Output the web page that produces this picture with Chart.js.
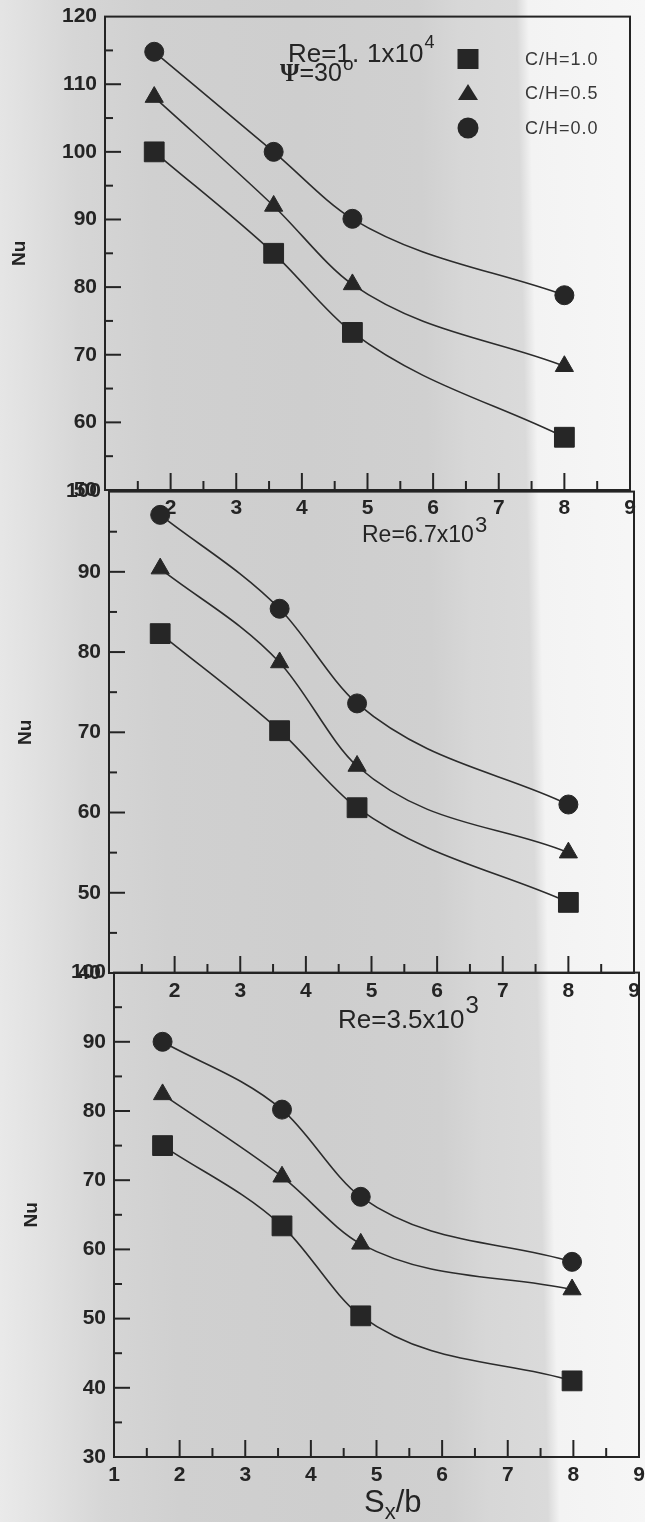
<!DOCTYPE html>
<html><head><meta charset="utf-8">
<script src="https://cdn.jsdelivr.net/npm/chart.js@4"></script>
<style>
html,body{margin:0;padding:0;width:645px;height:1522px;overflow:hidden;}
body{background:linear-gradient(88.8deg,#eaeaea 0px,#e2e2e2 45px,#d6d6d6 105px,#d0d0d0 180px,#cecece 330px,#d0d0d0 450px,#d7d7d7 490px,#dadada 548px,#f3f3f3 560px,#f7f7f7 677px);}
#wrap{position:relative;width:645px;height:1522px;}
canvas{position:absolute;}
</style></head><body><div id="wrap">
<canvas id="c1"></canvas><canvas id="c2"></canvas><canvas id="c3"></canvas>
</div>
<script>
// ---------- data ----------
const seriesLabels = ['C/H=1.0', 'C/H=0.5', 'C/H=0.0'];
const xTop = [1.75, 3.57, 4.77, 8.0];
const xMid = [1.78, 3.60, 4.78, 8.0];
const xBot = [1.74, 3.56, 4.76, 7.98];
// Re = 1.1x10^4
const nuTopCH10 = [100.0, 85.0, 73.3, 57.8];
const nuTopCH05 = [108.1, 92.0, 80.4, 68.3];
const nuTopCH00 = [114.8, 100.0, 90.1, 78.8];
// Re = 6.7x10^3
const nuMidCH10 = [82.3, 70.2, 60.6, 48.8];
const nuMidCH05 = [90.4, 78.7, 65.8, 55.0];
const nuMidCH00 = [97.1, 85.4, 73.6, 61.0];
// Re = 3.5x10^3
const nuBotCH10 = [75.0, 63.4, 50.4, 41.0];
const nuBotCH05 = [82.4, 70.5, 60.8, 54.2];
const nuBotCH00 = [90.0, 80.2, 67.6, 58.2];
// ticks
const xTickLabelsTop = ['', '2', '3', '4', '5', '6', '7', '8', '9'];
const xTickLabelsMid = ['', '2', '3', '4', '5', '6', '7', '8', '9'];
const xTickLabelsBot = ['1', '2', '3', '4', '5', '6', '7', '8', '9'];
const xMajorTicks = [2, 3, 4, 5, 6, 7, 8];
const xMinorTicks = [1.5, 2.5, 3.5, 4.5, 5.5, 6.5, 7.5, 8.5];
const yRangeTop = [50, 120];
const yRangeMid = [40, 100];
const yRangeBot = [30, 100];
const yMinorTop = [55, 65, 75, 85, 95, 105, 115];
const yMinorMid = [45, 55, 65, 75, 85, 95];
const yMinorBot = [35, 45, 55, 65, 75, 85, 95];

// ---------- styling ----------
const INK = '#242424';
const LINE = '#2c2c2c';
const SANS = "'Liberation Sans', Arial, sans-serif";
const PADTOP = 20;
const pointStyles = ['rect', 'triangle', 'circle'];
const pointRadii = [14, 10.5, 9.5];

const panelPlugin = {
  id: 'panel',
  afterDraw(chart, args, o) {
    const {ctx, chartArea: a, scales: {x, y}} = chart;
    const ox = o.dx, oy = o.oy;
    ctx.save();
    ctx.strokeStyle = INK; ctx.lineWidth = 2; ctx.lineCap = 'butt';
    ctx.strokeRect(a.left, a.top, a.right - a.left, a.bottom - a.top);
    const seg = (x1, y1, x2, y2) => { ctx.beginPath(); ctx.moveTo(x1, y1); ctx.lineTo(x2, y2); ctx.stroke(); };
    xMajorTicks.forEach(v => { const px = x.getPixelForValue(v); seg(px, a.bottom, px, a.bottom - 17); });
    xMinorTicks.forEach(v => { const px = x.getPixelForValue(v); seg(px, a.bottom, px, a.bottom - 9); });
    for (let v = y.min + 10; v < y.max; v += 10) { const py = y.getPixelForValue(v); seg(a.left, py, a.left + 16, py); }
    o.yMinor.forEach(v => { const py = y.getPixelForValue(v); seg(a.left, py, a.left + 8, py); });
    // annotation texts (page coords -> canvas coords); items with "gap" follow the previous one
    ctx.fillStyle = INK; ctx.textBaseline = 'alphabetic'; ctx.textAlign = 'left';
    let cx = 0;
    (o.texts || []).forEach(t => {
      ctx.font = t.font;
      const tx = (t.gap !== undefined) ? cx + t.gap : t.x - ox;
      ctx.fillText(t.s, tx, t.y - oy);
      cx = tx + ctx.measureText(t.s).width;
    });
    // legend
    if (o.legend) {
      const L = o.legend;
      ctx.fillStyle = '#262626';
      ctx.fillRect(L.mx - 10.5 - ox, L.ys[0] - 10 - oy, 21, 20);
      ctx.beginPath();
      ctx.moveTo(L.mx - ox, L.ys[1] - 9 - oy);
      ctx.lineTo(L.mx + 10 - ox, L.ys[1] + 7 - oy);
      ctx.lineTo(L.mx - 10 - ox, L.ys[1] + 7 - oy);
      ctx.closePath(); ctx.fill();
      ctx.beginPath(); ctx.arc(L.mx - ox, L.ys[2] - oy, 10.5, 0, Math.PI * 2); ctx.fill();
      ctx.fillStyle = '#383838';
      ctx.font = '18px ' + SANS; ctx.textBaseline = 'middle';
      try { ctx.letterSpacing = '1px'; } catch (e) {}
      chart.data.datasets.forEach((d, i) => ctx.fillText(d.label, L.tx - ox, L.ys[i] + 1 - oy));
      try { ctx.letterSpacing = '0px'; } catch (e) {}
    }
    ctx.restore();
  }
};

function makePanel(id, p) {
  const cv = document.getElementById(id);
  const H = PADTOP + (p.bottom - p.top) + p.xAxisH;
  cv.width = 645; cv.height = H;
  cv.style.width = '645px'; cv.style.height = H + 'px';
  cv.style.left = p.dx + 'px'; cv.style.top = (p.top - PADTOP) + 'px';
  const datasets = p.series.map((vals, i) => ({
    label: seriesLabels[i],
    data: p.xs.map((xv, j) => ({x: xv, y: vals[j]})),
    borderColor: LINE, borderWidth: 1.6,
    backgroundColor: '#262626',
    pointStyle: pointStyles[i], pointRadius: pointRadii[i],
    pointBackgroundColor: '#262626', pointBorderColor: '#262626', pointBorderWidth: 1,
    cubicInterpolationMode: 'monotone', fill: false
  }));
  const tickFont = {family: SANS, size: 21, weight: 'bold'};
  return new Chart(cv, {
    type: 'line',
    data: {datasets},
    options: {
      responsive: false, animation: false, devicePixelRatio: 1,
      layout: {padding: {top: PADTOP, left: 0, right: p.padRight, bottom: 0}},
      plugins: {
        legend: {display: false}, tooltip: {enabled: false},
        panel: {dx: p.dx, oy: p.top - PADTOP, yMinor: p.yMinor, texts: p.texts, legend: p.legend}
      },
      scales: {
        x: {
          type: 'linear', min: 1, max: 9,
          ticks: {stepSize: 1, autoSkip: false, maxRotation: 0, color: INK, font: tickFont, padding: 6,
                  callback: (v, i) => p.xLabels[i]},
          grid: {display: false, drawTicks: false, tickLength: 0},
          border: {display: false},
          afterFit: s => { s.height = p.xAxisH; }
        },
        y: {
          type: 'linear', min: p.yRange[0], max: p.yRange[1],
          ticks: {stepSize: 10, autoSkip: false, color: INK, font: tickFont, padding: 8},
          grid: {display: false, drawTicks: false, tickLength: 0},
          border: {display: false},
          title: {display: true, text: 'Nu', color: INK, font: {family: SANS, size: 19, weight: 'bold'},
                  padding: {top: p.titlePad, bottom: 0}},
          afterFit: s => { s.width = 105; }
        }
      }
    },
    plugins: [panelPlugin]
  });
}

makePanel('c1', {
  dx: 0, top: 16, bottom: 490, xAxisH: 36, padRight: 15, titlePad: 8,
  xs: xTop, series: [nuTopCH10, nuTopCH05, nuTopCH00], yRange: yRangeTop, yMinor: yMinorTop,
  xLabels: xTickLabelsTop,
  texts: [
    {s: 'Re=1', x: 288, y: 62, font: '26px ' + SANS},
    {s: '.', gap: 1, y: 62, font: '26px ' + SANS},
    {s: '1x10', gap: 8, y: 62, font: '26px ' + SANS},
    {s: '4', gap: 1, y: 48, font: '18px ' + SANS},
    {s: 'Ψ', x: 280, y: 81, font: 'bold 25px "Liberation Serif", serif'},
    {s: '=30', gap: 0, y: 81, font: '25px ' + SANS},
    {s: 'o', gap: 1, y: 70, font: '19px ' + SANS}
  ],
  legend: {mx: 468, tx: 525, ys: [59, 93, 128]}
});
makePanel('c2', {
  dx: 4, top: 491, bottom: 973, xAxisH: 36, padRight: 14, titlePad: 10,
  xs: xMid, series: [nuMidCH10, nuMidCH05, nuMidCH00], yRange: yRangeMid, yMinor: yMinorMid,
  xLabels: xTickLabelsMid,
  texts: [
    {s: 'Re=6.7x10', x: 362, y: 542, font: '23px ' + SANS},
    {s: '3', gap: 1, y: 532, font: '22px ' + SANS}
  ]
});
makePanel('c3', {
  dx: 9, top: 972, bottom: 1457, xAxisH: 70, padRight: 14, titlePad: 11,
  xs: xBot, series: [nuBotCH10, nuBotCH05, nuBotCH00], yRange: yRangeBot, yMinor: yMinorBot,
  xLabels: xTickLabelsBot,
  texts: [
    {s: 'Re=3.5x10', x: 338, y: 1028, font: '26px ' + SANS},
    {s: '3', gap: 1, y: 1013, font: '24px ' + SANS},
    {s: 'S', x: 364, y: 1512, font: '31px ' + SANS},
    {s: 'x', gap: 0, y: 1519, font: '22px ' + SANS},
    {s: '/b', gap: 0, y: 1512, font: '31px ' + SANS}
  ]
});
</script>
</body></html>
